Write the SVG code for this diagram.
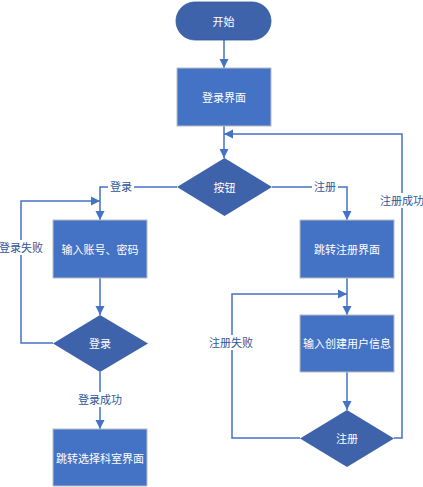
<svg xmlns="http://www.w3.org/2000/svg" width="423" height="487" viewBox="0 0 423 487">
<defs>
<marker id="arr" viewBox="0 0 10 10" refX="10" refY="5" markerWidth="9" markerHeight="10" markerUnits="userSpaceOnUse" orient="auto">
<path d="M0,0 L10,5 L0,10 z" fill="#4472C4"/>
</marker>
</defs>
<style>
.box{fill:#4472C4;stroke:#B8BCC4;stroke-width:1}
.dia{fill:#3F63AB}
.term{fill:#3F63AB;stroke:#2F5597;stroke-width:0.8}
.t{font-family:"Noto Sans CJK SC","Noto Sans",sans-serif;font-size:11px;fill:#FFFFFF;text-anchor:middle;dominant-baseline:central}
.lbl{font-family:"Noto Sans CJK SC","Noto Sans",sans-serif;font-size:11px;fill:#2F5597;text-anchor:middle;dominant-baseline:central}
.ln{fill:none;stroke:#4472C4;stroke-width:1.5}
.bg{fill:#FFFFFF}
</style>
<rect width="423" height="487" fill="#FFFFFF"/>
<g id="connectors">
<path class="ln" d="M224,40 V68" marker-end="url(#arr)"/>
<path class="ln" d="M224,126 V158" marker-end="url(#arr)"/>
<path class="ln" d="M177,187 H100 V220" marker-end="url(#arr)"/>
<path class="ln" d="M272,187 H347 V220" marker-end="url(#arr)"/>
<path class="ln" d="M53,343 H21 V201 H100" marker-end="url(#arr)"/>
<path class="ln" d="M100,278 V315" marker-end="url(#arr)"/>
<path class="ln" d="M100,372 V429" marker-end="url(#arr)"/>
<path class="ln" d="M347,278 V315" marker-end="url(#arr)"/>
<path class="ln" d="M300,438 H232 V294 H347" marker-end="url(#arr)"/>
<path class="ln" d="M347,372 V410" marker-end="url(#arr)"/>
<path class="ln" d="M394,438 H402 V134 H224" marker-end="url(#arr)"/>
<rect class="bg" x="108" y="179" width="26" height="15"/>
<text class="lbl" x="121" y="186">登录</text>
<rect class="bg" x="312" y="179" width="26" height="15"/>
<text class="lbl" x="325" y="186">注册</text>
<rect class="bg" x="0" y="240" width="43" height="15"/>
<text class="lbl" x="21" y="247">登录失败</text>
<rect class="bg" x="78" y="392" width="45" height="15"/>
<text class="lbl" x="100" y="399">登录成功</text>
<rect class="bg" x="380" y="193" width="44" height="15"/>
<text class="lbl" x="402" y="200">注册成功</text>
<rect class="bg" x="209" y="335" width="45" height="15"/>
<text class="lbl" x="231" y="342">注册失败</text>
</g>
<g id="start">
<rect class="term" x="176" y="2" width="95" height="38" rx="19"/>
<text class="t" x="223.5" y="21">开始</text>
</g>
<g id="login-screen">
<rect class="box" x="177" y="68" width="94" height="58"/>
<text class="t" x="224" y="97">登录界面</text>
</g>
<g id="button">
<polygon class="dia" points="224.5,158 272,187 224.5,216 177,187"/>
<text class="t" x="224.5" y="187">按钮</text>
</g>
<g id="input-account">
<rect class="box" x="53" y="220" width="94" height="58"/>
<text class="t" x="100" y="249">输入账号、密码</text>
</g>
<g id="login-decision">
<polygon class="dia" points="100,315 148,343.5 100,372 53,343.5"/>
<text class="t" x="100" y="343">登录</text>
</g>
<g id="select-dept">
<rect class="box" x="53" y="429" width="94" height="57"/>
<text class="t" x="100" y="458">跳转选择科室界面</text>
</g>
<g id="register-screen">
<rect class="box" x="300" y="220" width="94" height="58"/>
<text class="t" x="347" y="249">跳转注册界面</text>
</g>
<g id="input-user">
<rect class="box" x="300" y="315" width="94" height="57"/>
<text class="t" x="347" y="343">输入创建用户信息</text>
</g>
<g id="register-decision">
<polygon class="dia" points="347,410 394,438.5 347,467 300,438.5"/>
<text class="t" x="347" y="438">注册</text>
</g>
</svg>
